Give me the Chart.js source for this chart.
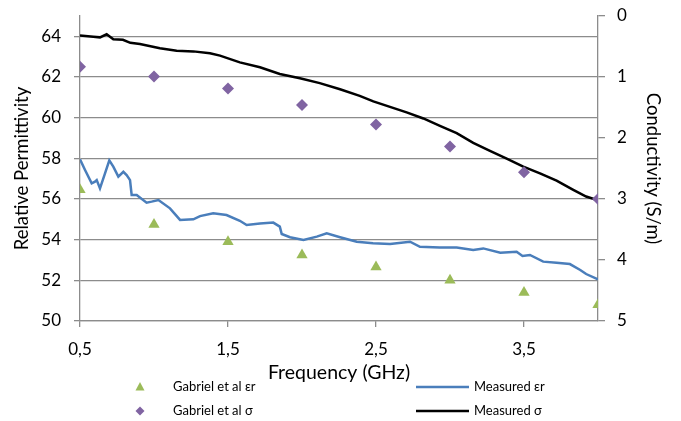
<!DOCTYPE html>
<html>
<head>
<meta charset="utf-8">
<script src="https://cdn.jsdelivr.net/npm/chart.js@4.4.1/dist/chart.umd.min.js"></script>
<style>
  body { margin: 0; background: #fff; }
  #wrap { width: 681px; height: 421px; }
</style>
</head>
<body>
<div id="wrap"><canvas id="freqChart" width="681" height="421"></canvas></div>
<script>
  // Gabriel et al reference values
  const gabrielFreq = [0.5, 1.0, 1.5, 2.0, 2.5, 3.0, 3.5, 4.0];
  const gabrielEr = [56.45, 54.75, 53.9, 53.25, 52.65, 52.0, 51.4, 50.8];
  const gabrielSigma = [0.83, 0.99, 1.19, 1.46, 1.78, 2.14, 2.56, 3.0];

  // measured permittivity
  const measErFreq = [0.5, 0.534, 0.579, 0.601, 0.613, 0.635, 0.669, 0.698, 0.725, 0.759, 0.793, 0.815,
    0.838, 0.849, 0.883, 0.95, 0.984, 1.03, 1.108, 1.176, 1.266, 1.311, 1.40, 1.49, 1.58, 1.626, 1.716,
    1.806, 1.85, 1.863, 1.919, 2.01, 2.10, 2.167, 2.257, 2.37, 2.48, 2.595, 2.73, 2.797, 2.93, 3.045,
    3.157, 3.225, 3.34, 3.45, 3.49, 3.54, 3.63, 3.72, 3.81, 3.88, 3.92, 4.0];
  const measEr = [57.95, 57.43, 56.77, 56.85, 56.93, 56.52, 57.26, 57.9, 57.59, 57.10, 57.34, 57.18,
    56.93, 56.20, 56.20, 55.82, 55.87, 55.95, 55.54, 54.97, 55.00, 55.16, 55.30, 55.21, 54.93, 54.72, 54.80,
    54.84, 54.64, 54.28, 54.12, 53.98, 54.15, 54.31, 54.12, 53.90, 53.82, 53.79, 53.90, 53.65, 53.61, 53.62,
    53.49, 53.57, 53.36, 53.41, 53.20, 53.25, 52.92, 52.87, 52.80, 52.51, 52.31, 52.05];

  // measured conductivity
  const measSigmaFreq = [0.5, 0.59, 0.635, 0.68, 0.725, 0.79, 0.84, 0.905, 1.04, 1.153, 1.266, 1.378, 1.446,
    1.58, 1.716, 1.85, 1.986, 2.12, 2.257, 2.39, 2.482, 2.707, 2.82, 2.932, 3.045, 3.157, 3.27, 3.383,
    3.495, 3.608, 3.72, 3.833, 3.92, 4.0];
  const measSigma = [0.32, 0.34, 0.35, 0.30, 0.38, 0.39, 0.44, 0.46, 0.53, 0.57, 0.58, 0.61, 0.65,
    0.76, 0.84, 0.95, 1.02, 1.10, 1.20, 1.31, 1.40, 1.58, 1.68, 1.80, 1.92, 2.08, 2.21, 2.34,
    2.47, 2.58, 2.70, 2.85, 2.96, 3.02];

  const xTicks = [0.5, 1.5, 2.5, 3.5];

  const labels = ["Gabriel et al εr", "Gabriel et al σ", "Measured εr", "Measured σ"];
  const colors = ["#9BBB59", "#8064A2", "#4A7EBB", "#000000"];

  const gridColor = "#8c8c8c";
  const fontFamily = "Lato, 'Open Sans', sans-serif";

  function pts(xs, ys) {
    return xs.map((x, i) => ({ x: x, y: ys[i] }));
  }

  // legend laid out like the original, two columns under the axis title
  const legendPlugin = {
    id: "sideLegend",
    afterDraw(chart) {
      const ctx = chart.ctx;
      const rows = [387, 411];
      ctx.save();
      ctx.font = "13px " + fontFamily;
      ctx.textBaseline = "middle";
      // markers
      ctx.fillStyle = colors[0];
      ctx.beginPath();
      ctx.moveTo(140, rows[0] - 5);
      ctx.lineTo(144.5, rows[0] + 3.5);
      ctx.lineTo(135.5, rows[0] + 3.5);
      ctx.closePath();
      ctx.fill();
      ctx.fillStyle = colors[1];
      ctx.beginPath();
      ctx.moveTo(140, rows[1] - 4.5);
      ctx.lineTo(144.5, rows[1]);
      ctx.lineTo(140, rows[1] + 4.5);
      ctx.lineTo(135.5, rows[1]);
      ctx.closePath();
      ctx.fill();
      // lines
      ctx.lineWidth = 2.5;
      ctx.strokeStyle = colors[2];
      ctx.beginPath(); ctx.moveTo(416, rows[0]); ctx.lineTo(469, rows[0]); ctx.stroke();
      ctx.strokeStyle = colors[3];
      ctx.beginPath(); ctx.moveTo(416, rows[1]); ctx.lineTo(469, rows[1]); ctx.stroke();
      // texts
      ctx.fillStyle = "#000";
      ctx.fillText(labels[0], 173, rows[0]);
      ctx.fillText(labels[1], 173, rows[1]);
      ctx.fillText(labels[2], 474, rows[0]);
      ctx.fillText(labels[3], 474, rows[1]);
      ctx.restore();
    }
  };

  // fixed box sizes, no extra room for the first/last tick label
  function fitY(width) {
    return (scale) => {
      scale.width = width;
      scale.paddingTop = 0;
      scale.paddingBottom = 0;
    };
  }

  const ctx = document.getElementById("freqChart").getContext("2d");
  const chart = new Chart(ctx, {
    type: "scatter",
    data: {
      datasets: [
        {
          label: labels[0],
          data: pts(gabrielFreq, gabrielEr),
          yAxisID: "y",
          pointStyle: "triangle",
          pointRadius: 6.5,
          backgroundColor: colors[0],
          borderColor: colors[0],
          borderWidth: 0,
          order: 0,
        },
        {
          label: labels[1],
          data: pts(gabrielFreq, gabrielSigma),
          yAxisID: "y1",
          pointStyle: "rectRot",
          pointRadius: 6,
          backgroundColor: colors[1],
          borderColor: colors[1],
          borderWidth: 0,
          order: 0,
        },
        {
          label: labels[2],
          type: "line",
          data: pts(measErFreq, measEr),
          yAxisID: "y",
          borderColor: colors[2],
          borderWidth: 2.5,
          pointRadius: 0,
          tension: 0,
          order: 1,
        },
        {
          label: labels[3],
          type: "line",
          data: pts(measSigmaFreq, measSigma),
          yAxisID: "y1",
          borderColor: colors[3],
          borderWidth: 2.5,
          pointRadius: 0,
          tension: 0,
          order: 1,
        },
      ],
    },
    options: {
      responsive: false,
      animation: false,
      layout: { padding: { top: 16, left: 0, right: 0, bottom: 34 } },
      plugins: {
        legend: { display: false },
        tooltip: { enabled: false },
      },
      scales: {
        x: {
          type: "linear",
          min: 0.5,
          max: 4.0,
          afterBuildTicks: (scale) => {
            scale.ticks = xTicks.map((v) => ({ value: v }));
          },
          afterFit: (scale) => { scale.height = 66; },
          grid: { drawOnChartArea: false, drawTicks: true, tickLength: 6, color: gridColor, lineWidth: 1.3 },
          border: { color: gridColor, width: 1.3 },
          ticks: {
            padding: 12,
            color: "#000",
            font: { family: fontFamily, size: 17 },
            callback: (v) => String(v).replace(".", ","),
          },
          title: {
            display: true,
            text: "Frequency (GHz)",
            color: "#000",
            font: { family: fontFamily, size: 19.5 },
            padding: { top: 0, bottom: 3 },
          },
        },
        y: {
          position: "left",
          min: 50,
          max: 65,
          afterFit: fitY(80),
          grid: { color: gridColor, lineWidth: 1.3, tickLength: 6 },
          border: { color: gridColor, width: 1.3 },
          ticks: {
            stepSize: 2,
            includeBounds: false,
            padding: 13,
            color: "#000",
            font: { family: fontFamily, size: 17 },
          },
          title: {
            display: true,
            text: "Relative Permittivity",
            color: "#000",
            font: { family: fontFamily, size: 18.5 },
            padding: { top: 11, bottom: 0 },
          },
        },
        y1: {
          position: "right",
          min: 0,
          max: 5,
          reverse: true,
          afterFit: fitY(83),
          grid: { drawOnChartArea: false, color: gridColor, lineWidth: 1.3, tickLength: 7 },
          border: { color: gridColor, width: 1.3 },
          ticks: {
            stepSize: 1,
            padding: 12,
            color: "#000",
            font: { family: fontFamily, size: 17 },
          },
          title: {
            display: true,
            text: "Conductivity (S/m)",
            color: "#000",
            font: { family: fontFamily, size: 18.5 },
            padding: { top: 17, bottom: 0 },
          },
        },
      },
    },
    plugins: [legendPlugin],
  });
</script>
</body>
</html>
